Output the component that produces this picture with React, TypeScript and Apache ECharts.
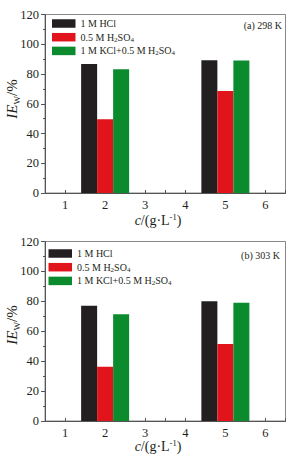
import React, { useEffect, useRef } from "react";
import * as echarts from "echarts";

const categories = ["1", "2", "3", "4", "5", "6"];
const seriesNames = ["1 M HCl", "0.5 M H2SO4", "1 M KCl+0.5 M H2SO4"];
const legendLabels = ["1 M HCl", "0.5 M H{sub|2}SO{sub|4}", "1 M KCl+0.5 M H{sub|2}SO{sub|4}"];
const colors = ["#231f20", "#e1141b", "#0b8a2e"];

// panel (a) 298 K
const hcl298 = [null, 86.7, null, null, 89.3, null];
const h2so4298 = [null, 49.5, null, null, 68.6, null];
const kcl298 = [null, 83.2, null, null, 89.0, null];
// panel (b) 303 K
const hcl303 = [null, 77.1, null, null, 80.0, null];
const h2so4303 = [null, 36.3, null, null, 51.5, null];
const kcl303 = [null, 71.3, null, null, 79.0, null];

const yMin = 0;
const yMax = 120;
const yStep = 20;

const FONT = "Liberation Serif";
const TXT = "#231f20";

export default function App() {
  const ref = useRef<HTMLDivElement>(null);
  useEffect(() => {
    if (!ref.current) return;
    const chart = echarts.init(ref.current, null, { renderer: "svg" });

    const grids = [
      { left: 45, top: 14.5, width: 240.5, height: 178.5 },
      { left: 45, top: 241.5, width: 240.5, height: 179.5 },
    ];

    const xAxes: any[] = [];
    const yAxes: any[] = [];
    grids.forEach((_, i) => {
      xAxes.push({
        type: "category",
        gridIndex: i,
        data: categories,
        boundaryGap: true,
        axisLine: { show: true, lineStyle: { color: "#555", width: 1 } },
        axisTick: { show: true, inside: true, length: 3, lineStyle: { color: "#555" } },
        axisLabel: { fontFamily: FONT, fontSize: 12.5, color: TXT, margin: 5 },
        splitLine: { show: false },
      });
      xAxes.push({
        type: "category",
        gridIndex: i,
        data: categories,
        boundaryGap: true,
        position: "bottom",
        axisLine: { show: false },
        axisTick: { show: true, inside: true, length: 3, alignWithLabel: true, lineStyle: { color: "#555" } },
        axisLabel: { show: false },
        splitLine: { show: false },
      });
      yAxes.push({
        type: "value",
        gridIndex: i,
        min: yMin,
        max: yMax,
        interval: yStep,
        axisLine: { show: true, lineStyle: { color: "#555", width: 1 } },
        axisTick: { show: true, inside: false, length: 4, lineStyle: { color: "#555" } },
        minorTick: { show: true, splitNumber: 2, length: 2, lineStyle: { color: "#555" } },
        axisLabel: { fontFamily: FONT, fontSize: 12.5, color: TXT, margin: 6 },
        splitLine: { show: false },
      });
    });

    const panelData = [
      [hcl298, h2so4298, kcl298],
      [hcl303, h2so4303, kcl303],
    ];
    const series: any[] = [];
    panelData.forEach((set, p) => {
      set.forEach((d, k) => {
        series.push({
          type: "bar",
          name: seriesNames[k],
          xAxisIndex: p * 2,
          yAxisIndex: p,
          data: d,
          barWidth: 16,
          barGap: "0%",
          itemStyle: { color: colors[k] },
        });
      });
    });

    const legendText = {
      fontFamily: FONT,
      fontSize: 10,
      color: TXT,
      lineHeight: 12,
      rich: {
        sub: { fontFamily: FONT, fontSize: 7, lineHeight: 7, verticalAlign: "bottom", color: TXT },
      },
    };
    const mkLegend = (left: number, top: number) => ({
      orient: "vertical",
      left,
      top,
      padding: 0,
      itemGap: 1.7,
      itemWidth: 23.5,
      itemHeight: 8.5,
      icon: "rect",
      data: seriesNames,
      formatter: (name: string) => legendLabels[seriesNames.indexOf(name)],
      textStyle: legendText,
      selectedMode: false,
    });

    const xName = (y: number) => ({
      type: "text",
      x: 158,
      y,
      style: {
        text: "{i|c}/(g·L{sup|-1})",
        fontFamily: FONT,
        fontSize: 14,
        lineHeight: 15,
        fill: TXT,
        align: "center",
        verticalAlign: "middle",
        rich: {
          i: { fontFamily: FONT, fontSize: 14, lineHeight: 15, fontStyle: "italic", fill: TXT },
          sup: { fontFamily: FONT, fontSize: 8.5, lineHeight: 9, verticalAlign: "top", fill: TXT },
        },
      },
    });
    const yName = (y: number) => ({
      type: "text",
      x: 12,
      y,
      rotation: Math.PI / 2,
      style: {
        text: "{i|IE}{sub|W}/%",
        fontFamily: FONT,
        fontSize: 15,
        lineHeight: 18,
        fill: TXT,
        align: "center",
        verticalAlign: "middle",
        rich: {
          i: { fontFamily: FONT, fontSize: 15, lineHeight: 18, fontStyle: "italic", fill: TXT },
          sub: { fontFamily: FONT, fontSize: 9, lineHeight: 9, verticalAlign: "bottom", fill: TXT },
        },
      },
    });
    const panelLabel = (text: string, x: number, y: number) => ({
      type: "text",
      x,
      y,
      style: { text, fontFamily: FONT, fontSize: 10, fill: TXT, align: "right", verticalAlign: "middle" },
    });

    chart.setOption({
      animation: false,
      backgroundColor: "#ffffff",
      grid: grids.map((g) => ({ ...g, show: true, borderColor: "#888", borderWidth: 1, backgroundColor: "transparent" })),
      xAxis: xAxes,
      yAxis: yAxes,
      legend: [mkLegend(52, 17.5), mkLegend(48.5, 247.5)],
      series,
      graphic: [
        xName(220),
        xName(446),
        yName(99),
        yName(325),
        panelLabel("(a) 298 K", 282, 25),
        panelLabel("(b) 303 K", 280, 255),
      ],
    });
    return () => chart.dispose();
  }, []);
  return <div ref={ref} style={{ position: "absolute", left: 0, top: 0, width: 295, height: 462 }} />;
}
